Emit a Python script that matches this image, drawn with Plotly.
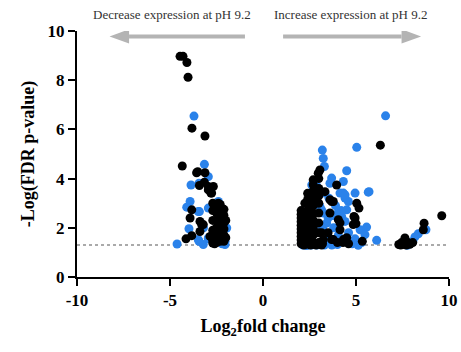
import plotly.graph_objects as go

# Genes with significant change (log2 fold change, -log10 FDR p-value)
black_x = [
    -4.46, -4.30, -4.09, -4.03, -3.82, -3.12, -4.34, -3.57, -3.12, -3.42, -3.15, -2.67,
    -2.94, -2.76, -3.83, -2.40, -3.92, -3.39, -3.21, -4.14, -3.83, -2.85, -2.70, -3.51,
    -2.94, -2.80, -3.30, -3.39,
    -2.7, -2.7, -2.7, -2.7, -2.7,
    -2.5, -2.5, -2.5, -2.5, -2.5, -2.5,
    -2.3, -2.3, -2.3, -2.3, -2.3, -2.3,
    -2.1, -2.1, -2.1, -2.1, -2.1, -2.1,
    -2.0, -2.0, -2.6, -2.4, -2.2,
    2.05, 2.05, 2.05, 2.05, 2.05, 2.05, 2.05, 2.05, 2.05, 2.05,
    2.4, 2.4, 2.4, 2.4, 2.4, 2.4, 2.4, 2.4, 2.4, 2.4,
    2.7, 2.7, 2.7, 2.7, 2.7, 2.7, 2.7, 2.7, 2.7, 2.7,
    3.0, 3.0, 3.0, 3.0, 3.0, 3.0, 3.0, 3.0, 3.06, 2.97,
    2.2, 2.55, 2.85, 3.15, 2.25, 2.6,
    3.33, 3.69, 3.96, 3.60, 3.78, 4.05, 4.14, 3.50, 3.15, 3.24, 3.78, 4.32,
    3.69, 4.14, 4.30, 4.50, 4.85, 4.89, 4.95, 5.04, 5.16, 5.34, 5.00, 3.20,
    3.60, 4.00, 4.60, 2.80,
    6.31,
    9.61, 8.66, 8.62, 7.63, 7.30, 7.45, 7.60, 7.75, 7.90, 8.05, 7.40, 7.70,
]
black_y = [
    8.97, 8.97, 8.72, 8.12, 6.05, 5.73, 4.51, 4.24, 4.24, 3.72, 3.85, 3.68,
    3.54, 3.41, 2.73, 3.00, 2.40, 2.26, 2.13, 1.55, 1.68, 1.65, 1.38, 4.28,
    3.68, 3.41, 2.13, 1.85,
    1.5, 1.9, 2.3, 2.7, 3.0,
    1.4, 1.7, 2.0, 2.3, 2.6, 2.85,
    1.45, 1.75, 2.05, 2.35, 2.65, 2.95,
    1.45, 1.7, 1.95, 2.2, 2.5, 2.75,
    1.6, 2.3, 1.35, 1.6, 2.1,
    1.35, 1.5, 1.65, 1.8, 1.95, 2.1, 2.25, 2.4, 2.55, 2.7,
    1.35, 1.55, 1.75, 1.95, 2.2, 2.45, 2.7, 2.95, 3.15, 3.4,
    1.4, 1.7, 2.0, 2.3, 2.6, 2.9, 3.2, 3.5, 3.75, 3.95,
    1.4, 1.8, 2.2, 2.6, 3.0, 3.3, 3.6, 4.0, 4.35, 4.22,
    1.3, 1.3, 1.3, 1.3, 3.0, 3.0,
    3.47, 3.07, 3.74, 3.14, 3.07, 2.33, 2.20, 1.80, 1.80, 1.52, 1.52, 1.52,
    1.52, 1.92, 1.40, 1.60, 2.13, 2.46, 2.40, 3.00, 2.80, 1.45, 2.17, 1.35,
    2.60, 1.40, 1.35, 1.35,
    5.36,
    2.49, 2.19, 1.92, 1.59, 1.32, 1.40, 1.33, 1.42, 1.33, 1.40, 1.30, 1.30,
]

blue_x = [
    -3.71, -3.15, -2.94, -3.87, -3.92, -4.10, -3.42, -2.94, -3.98, -4.62, -3.48, -3.21,
    -2.94, -2.04, -3.44, -3.48, -2.40, -1.95, -2.04, -2.94, -3.44, -3.20, -2.20,
    3.19, 3.24, 3.30, 4.50, 2.62, 3.69, 3.60, 4.32, 4.95, 5.66, 4.41, 4.59, 3.15,
    4.41, 5.57, 5.22, 5.48, 6.11, 5.04, 6.59, 5.70, 5.12, 4.32, 4.14, 4.41, 4.50,
    4.23, 3.24, 3.42, 3.06, 3.33, 2.89, 2.35, 2.60, 2.90, 3.30, 3.70, 4.00, 4.80,
    2.20, 2.50, 3.50, 3.80, 4.20, 3.90, 3.55, 4.05, 3.40, 3.75, 4.60, 2.75, 2.15,
    5.30, 4.95, 3.20, 3.95, 3.60,
    8.76, 8.35, 8.17, 8.05, 7.76,
]
blue_y = [
    6.54, 4.58, 4.08, 3.74, 3.07, 2.84, 2.66, 2.80, 1.96, 1.34, 1.52, 1.32,
    1.55, 1.32, 3.81, 2.66, 3.07, 1.99, 1.45, 1.59, 1.45, 2.00, 1.35,
    5.16, 4.82, 4.49, 4.32, 3.74, 4.02, 3.81, 3.41, 3.41, 3.45, 3.21, 3.07, 2.73,
    2.26, 2.03, 1.92, 1.72, 1.49, 5.27, 6.55, 3.47, 1.29, 3.88, 3.41, 3.34, 2.73,
    2.46, 2.60, 2.19, 2.87, 3.41, 3.68, 1.28, 1.30, 1.30, 1.30, 1.30, 1.32, 1.35,
    1.40, 1.60, 2.40, 2.00, 2.70, 2.90, 3.20, 1.70, 1.50, 2.50, 1.80, 1.90, 1.30,
    1.40, 1.55, 2.00, 2.55, 1.45,
    1.92, 1.76, 1.63, 1.45, 1.29,
]

significance = 1.3  # -log10(0.05)

x_ticks = [-10, -5, 0, 5, 10]
y_ticks = [0, 2, 4, 6, 8, 10]

serif = "Liberation Serif"
blue = "#2a82ea"
arrow_grey = "#b4b4b4"

fig = go.Figure()
fig.add_trace(go.Scatter(
    x=blue_x, y=blue_y, mode="markers",
    marker=dict(color=blue, size=9, line=dict(width=0)),
    cliponaxis=False, showlegend=False,
))
fig.add_trace(go.Scatter(
    x=black_x, y=black_y, mode="markers",
    marker=dict(color="black", size=9, line=dict(width=0)),
    cliponaxis=False, showlegend=False,
))

# Significance threshold
fig.add_shape(type="line", xref="x", yref="y", x0=-10, x1=10, y0=significance, y1=significance,
              line=dict(color="#aaaaaa", width=2, dash="dot"), layer="below")

# Direction arrows: shaft plus triangular head, in data coordinates
arrow_y = 9.78
head_half = 0.29
for tail, base, tip in [(-0.97, -7.2, -8.25), (1.08, 7.45, 8.5)]:
    fig.add_shape(type="line", xref="x", yref="y", x0=tail, x1=base, y0=arrow_y, y1=arrow_y,
                  line=dict(color=arrow_grey, width=4))
    fig.add_shape(type="path", xref="x", yref="y",
                  path=f"M {base},{arrow_y - head_half} L {tip},{arrow_y} "
                       f"L {base},{arrow_y + head_half} Z",
                  fillcolor=arrow_grey, line=dict(width=0))

fig.add_annotation(x=-4.9, y=1.0, xref="x", yref="paper", yanchor="bottom", yshift=7,
                   text="Decrease expression at pH 9.2", showarrow=False,
                   font=dict(family=serif, size=13, color="#333333"))
fig.add_annotation(x=4.7, y=1.0, xref="x", yref="paper", yanchor="bottom", yshift=7,
                   text="Increase expression at pH 9.2", showarrow=False,
                   font=dict(family=serif, size=13, color="#333333"))

axis_common = dict(
    showgrid=False, zeroline=False, showline=True, linecolor="black", linewidth=2,
    ticks="outside", ticklen=7, tickwidth=2, tickcolor="black", automargin=False,
    tickfont=dict(family=serif, size=17, color="black", weight="bold"),
)

fig.update_layout(
    width=461, height=352,
    margin=dict(l=77, r=12, t=31, b=75),
    plot_bgcolor="white", paper_bgcolor="white",
    font=dict(family=serif),
    xaxis=dict(range=[-10, 10], tickvals=x_ticks, ticktext=[str(v) for v in x_ticks],
               title=dict(text="Log<sub>2</sub>fold change", standoff=10,
                          font=dict(family=serif, size=18, color="black", weight="bold")),
               **axis_common),
    yaxis=dict(range=[0, 10], tickvals=y_ticks, ticktext=[str(v) for v in y_ticks],
               title=dict(text="-Log(FDR p-value)", standoff=8,
                          font=dict(family=serif, size=18, color="black", weight="bold")),
               **axis_common),
)

fig.write_html("out.html")
